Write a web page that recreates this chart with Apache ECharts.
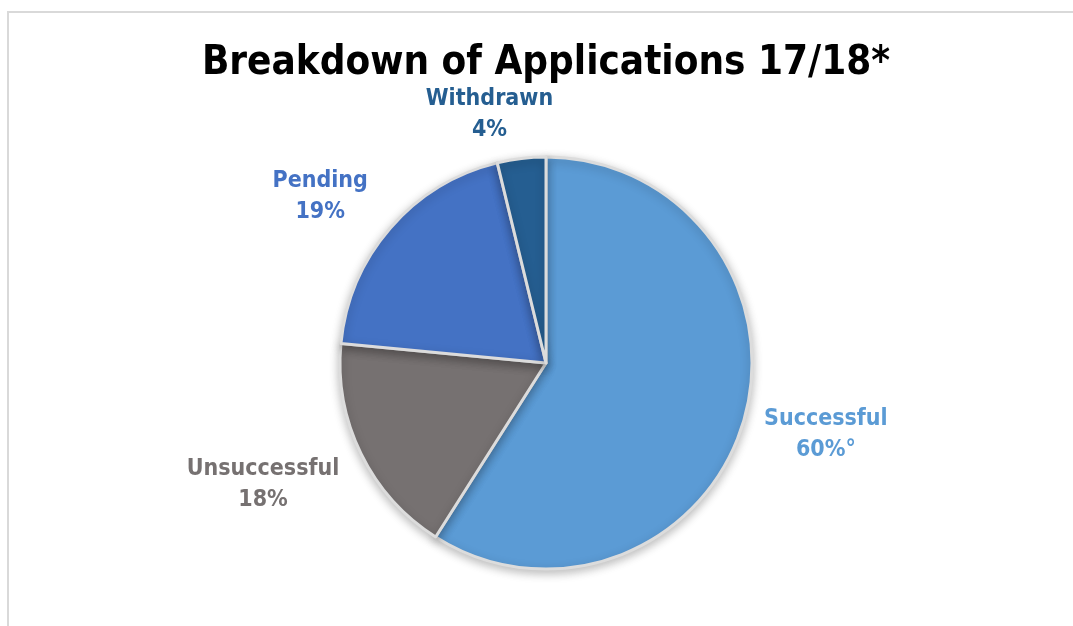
<!DOCTYPE html>
<html>
<head>
<meta charset="utf-8">
<script src="https://cdn.jsdelivr.net/npm/echarts@6/dist/echarts.min.js"></script>
<style>
html,body{margin:0;padding:0;background:#fff;}
#c{width:1073px;height:626px;}
</style>
</head>
<body>
<div id="c"></div>
<script>
const categories = ['Successful', 'Unsuccessful', 'Pending', 'Withdrawn'];
const values = [59, 17.5, 19.7, 3.8];
const percentLabels = ['60%°', '18%', '19%', '4%'];
const colors = ['#5B9BD5', '#767171', '#4472C4', '#255E91'];

const chart = echarts.init(document.getElementById('c'), null, {renderer: 'canvas'});
const FONT = '"DejaVu Sans Condensed", "Liberation Sans", sans-serif';

const CENTER = [546, 363];
const RADIUS = 206;
// label offset from the slice's rim mid-point (dx, dy)
const labelNudges = [[82, 14], [-98, 31], [-70, -32], [-32, -44]];

const total = values.reduce((a, b) => a + b, 0);
function rimPoint(idx) {
  let before = 0;
  for (let i = 0; i < idx; i++) before += values[i];
  const mid = (before + values[idx] / 2) / total * Math.PI * 2;
  return [CENTER[0] + RADIUS * Math.sin(mid), CENTER[1] - RADIUS * Math.cos(mid)];
}

chart.setOption({
  animation: false,
  backgroundColor: '#fff',
  graphic: [{
    type: 'polyline',
    shape: {points: [[8, 626], [8, 12], [1073, 12]]},
    style: {stroke: '#d9d9d9', lineWidth: 2, fill: null},
    silent: true
  }],
  title: {
    text: 'Breakdown of Applications 17/18*',
    left: 541,
    textAlign: 'center',
    top: 39,
    textStyle: {fontFamily: FONT, fontWeight: 'bold', fontSize: 40, color: '#000'}
  },
  series: [{
    type: 'pie',
    center: CENTER,
    radius: RADIUS,
    startAngle: 90,
    clockwise: true,
    z: 2,
    data: categories.map((n, i) => ({
      name: n,
      value: values[i],
      itemStyle: {color: colors[i]},
      label: {color: colors[i]}
    })),
    itemStyle: {
      borderColor: '#dcdcdc',
      borderWidth: 3,
      shadowBlur: 10,
      shadowColor: 'rgba(0,0,0,0.25)',
      shadowOffsetY: 3
    },
    label: {
      show: true,
      position: 'outside',
      formatter: p => p.name + '\n' + percentLabels[p.dataIndex],
      fontFamily: FONT,
      fontWeight: 'bold',
      fontSize: 23,
      lineHeight: 31
    },
    labelLine: {show: false, length: 20, length2: 10},
    labelLayout: function (params) {
      const p = rimPoint(params.dataIndex);
      const n = labelNudges[params.dataIndex];
      return {
        x: p[0] + n[0],
        y: p[1] + n[1],
        align: 'center',
        verticalAlign: 'middle'
      };
    },
    emphasis: {disabled: true}
  }]
});
</script>
</body>
</html>
